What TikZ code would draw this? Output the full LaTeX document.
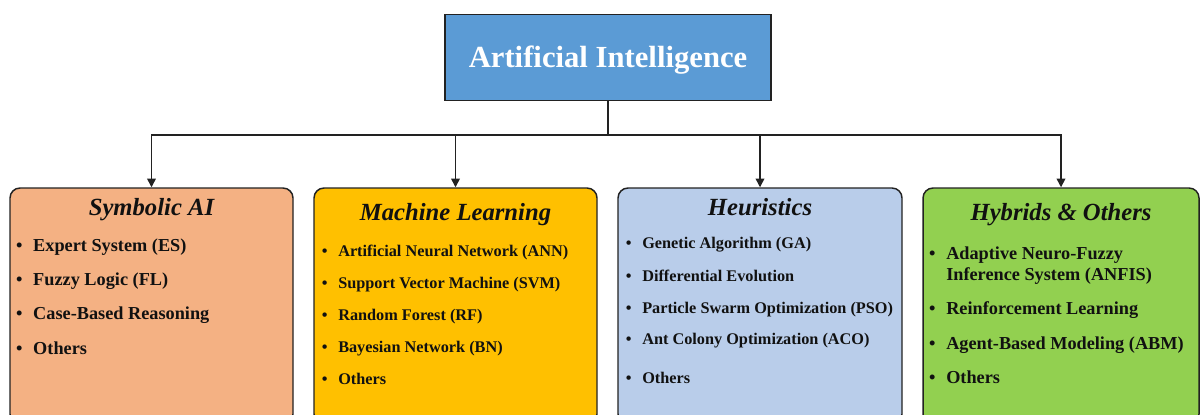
\documentclass[tikz,border=0pt]{standalone}
\usepackage{fontspec}
\setmainfont{Liberation Serif}
\usetikzlibrary{arrows.meta}
\newcommand\itmark{\llap{\textbullet\hspace{8pt}}}
\definecolor{aiblue}{HTML}{5B9BD5}
\definecolor{symfill}{HTML}{F4B183}
\definecolor{mlfill}{HTML}{FFC000}
\definecolor{heufill}{HTML}{B9CDEA}
\definecolor{hybfill}{HTML}{92D050}
\definecolor{edge}{HTML}{222222}
\definecolor{ink}{HTML}{111111}

\begin{document}
\begin{tikzpicture}[x=0.75pt,y=-0.75pt,
  topbox/.style={draw=edge,line width=1.1pt,fill=aiblue,minimum width=244.5pt,minimum height=64.5pt,inner sep=0pt},
  catbox/.style={draw=edge,line width=1.1pt,rounded corners=7.5pt,minimum height=177pt,inner sep=0pt},
  head/.style={font=\fontsize{18.5}{22}\selectfont\bfseries\itshape,text=ink,anchor=base,inner sep=0pt},
  item/.style={font=\fontsize{12.2}{15.75}\selectfont\bfseries,text=ink,anchor=base west,inner sep=0pt,align=left},
  itembig/.style={item,font=\fontsize{13.7}{15.75}\selectfont\bfseries},
  link/.style={line width=1.1pt,draw=edge},
  arr/.style={link,-{Triangle[length=6.5pt,width=6.5pt]}}]

\useasboundingbox (0,0) rectangle (1201,414);
\clip (0,0) rectangle (1201,414);

% root
\node[topbox] (ai) at (608,57.5) {};
\node[font=\fontsize{23}{27}\selectfont\bfseries,text=white,anchor=base,inner sep=0pt] (aititle) at (608,67) {Artificial Intelligence};

% category boxes
\node[catbox,fill=symfill,minimum width=212.25pt] (sym) at (151.5,306) {};
\node[catbox,fill=mlfill,minimum width=212.25pt] (ml) at (455.5,306) {};
\node[catbox,fill=heufill,minimum width=213pt] (heu) at (760,306) {};
\node[catbox,fill=hybfill,minimum width=207pt] (hyb) at (1061,306) {};

% connectors
\coordinate (hub) at (608,135);
\draw[link] (ai.south) -- (hub);
\draw[arr] (hub) -| (sym.north);
\draw[arr] (hub) -| (ml.north);
\draw[arr] (hub) -| (heu.north);
\draw[arr] (hub) -| (hyb.north);

% Symbolic AI
\node[head] (symh) at (151.5,215) {Symbolic AI};
\node[itembig] (s1) at (33,251) {\itmark Expert System (ES)};
\node[itembig] (s2) at (33,285) {\itmark Fuzzy Logic (FL)};
\node[itembig] (s3) at (33,319) {\itmark Case-Based Reasoning};
\node[itembig] (s4) at (33,354) {\itmark Others};

% Machine Learning
\node[head] (mlh) at (455.5,220) {Machine Learning};
\node[item] (m1) at (338,256) {\itmark Artificial Neural Network (ANN)};
\node[item] (m2) at (338,288) {\itmark Support Vector Machine (SVM)};
\node[item] (m3) at (338,320) {\itmark Random Forest (RF)};
\node[item] (m4) at (338,352) {\itmark Bayesian Network (BN)};
\node[item] (m5) at (338,384) {\itmark Others};

% Heuristics
\node[head] (heuh) at (760,215) {Heuristics};
\node[item] (h1) at (642,248) {\itmark Genetic Algorithm (GA)};
\node[item] (h2) at (642,281) {\itmark Differential Evolution};
\node[item] (h3) at (642,313) {\itmark Particle Swarm Optimization (PSO)};
\node[item] (h4) at (642,344) {\itmark Ant Colony Optimization (ACO)};
\node[item] (h5) at (642,383) {\itmark Others};

% Hybrids & Others (two-line item is anchored on its last baseline)
\node[head] (hybh) at (1061,220) {Hybrids \& Others};
\node[itembig] (y1) at (946,280) {\itmark Adaptive Neuro-Fuzzy\\Inference System (ANFIS)};
\node[itembig] (y2) at (946,314) {\itmark Reinforcement Learning};
\node[itembig] (y3) at (946,349) {\itmark Agent-Based Modeling (ABM)};
\node[itembig] (y4) at (946,383) {\itmark Others};
\end{tikzpicture}
\end{document}
